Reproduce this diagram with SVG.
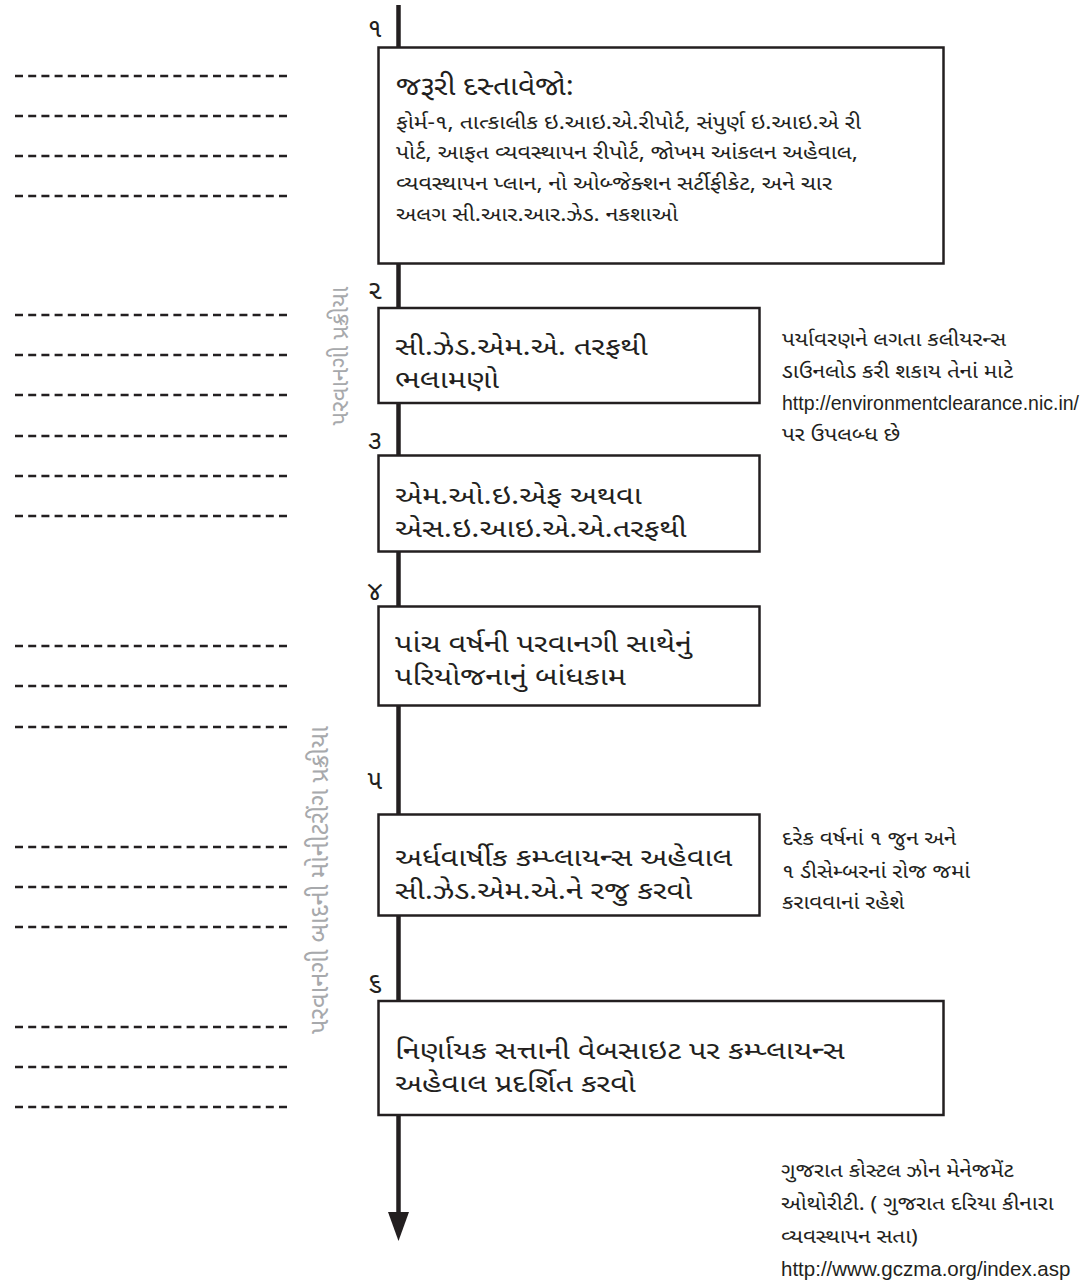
<svg xmlns="http://www.w3.org/2000/svg" width="1083" height="1282" viewBox="0 0 1083 1282">
<style>
text{font-family:"Noto Sans Gujarati","Lohit Gujarati","Shruti","Noto Sans","DejaVu Sans",sans-serif;fill:#231f20}
.box{fill:#fff;stroke:#231f20;stroke-width:2.5}
.dash{stroke:#231f20;stroke-width:2.5;stroke-dasharray:8 5.2;fill:none}
.t1{font-size:27px}
.t2{font-size:20px}
.big{font-size:25.5px}
.note{font-size:19.5px}
.url{font-family:"Liberation Sans Narrow","Liberation Sans",sans-serif;font-size:19.5px}
.num{font-size:27px;text-anchor:middle}
.side{font-size:24px;fill:#a7a9ac}
</style>
<g id="guides">
<line class="dash" x1="15" y1="76" x2="287" y2="76"/>
<line class="dash" x1="15" y1="116" x2="287" y2="116"/>
<line class="dash" x1="15" y1="156" x2="287" y2="156"/>
<line class="dash" x1="15" y1="196" x2="287" y2="196"/>
<line class="dash" x1="15" y1="315" x2="287" y2="315"/>
<line class="dash" x1="15" y1="355" x2="287" y2="355"/>
<line class="dash" x1="15" y1="395" x2="287" y2="395"/>
<line class="dash" x1="15" y1="436" x2="287" y2="436"/>
<line class="dash" x1="15" y1="476" x2="287" y2="476"/>
<line class="dash" x1="15" y1="516" x2="287" y2="516"/>
<line class="dash" x1="15" y1="646" x2="287" y2="646"/>
<line class="dash" x1="15" y1="686" x2="287" y2="686"/>
<line class="dash" x1="15" y1="727" x2="287" y2="727"/>
<line class="dash" x1="15" y1="847" x2="287" y2="847"/>
<line class="dash" x1="15" y1="887" x2="287" y2="887"/>
<line class="dash" x1="15" y1="927" x2="287" y2="927"/>
<line class="dash" x1="15" y1="1027" x2="287" y2="1027"/>
<line class="dash" x1="15" y1="1067" x2="287" y2="1067"/>
<line class="dash" x1="15" y1="1107" x2="287" y2="1107"/>
</g>
<g id="connectors">
<line x1="398.5" y1="5" x2="398.5" y2="1214" stroke="#231f20" stroke-width="4.5"/>
<polygon points="388,1212 409,1212 398.5,1241" fill="#231f20"/>
</g>
<g id="phase-labels">
<text class="side" transform="translate(348,356) rotate(-90)" text-anchor="middle">પરવાનગી પ્રક્રીયા</text>
<text class="side" transform="translate(328,880) rotate(-90)" text-anchor="middle" style="font-size:25.5px">પરવાનગી બાદની મોનીટરીંગ પ્રક્રીયા</text>
</g>
<g id="step-numbers">
<text class="num" x="375" y="37">૧</text>
<text class="num" x="375" y="299">૨</text>
<text class="num" x="375" y="449">૩</text>
<text class="num" x="375" y="600">૪</text>
<text class="num" x="375" y="789">૫</text>
<text class="num" x="375" y="991">૬</text>
</g>
<g id="node1">
<rect class="box" x="378.5" y="47.5" width="565" height="216"/>
<text class="t1" transform="translate(396,95) scale(1.11,1)">જરૂરી દસ્તાવેજો:</text>
<text class="t2" transform="translate(396,129) scale(1.15,1)">ફોર્મ-૧, તાત્કાલીક ઇ.આઇ.એ.રીપોર્ટ, સંપુર્ણ ઇ.આઇ.એ રી</text>
<text class="t2" transform="translate(396,159) scale(1.15,1)">પોર્ટ, આફત વ્યવસ્થાપન રીપોર્ટ, જોખમ આંકલન અહેવાલ,</text>
<text class="t2" transform="translate(396,190) scale(1.15,1)">વ્યવસ્થાપન પ્લાન, નો ઓબ્જેક્શન સર્ટીફીકેટ, અને ચાર</text>
<text class="t2" transform="translate(396,221) scale(1.15,1)">અલગ સી.આર.આર.ઝેડ. નકશાઓ</text>
</g>
<g id="node2">
<rect class="box" x="378.5" y="308" width="381" height="95"/>
<text class="big" transform="translate(395,355) scale(1.2,1)">સી.ઝેડ.એમ.એ. તરફથી</text>
<text class="big" transform="translate(395,388) scale(1.2,1)">ભલામણો</text>
</g>
<g id="node3">
<rect class="box" x="378.5" y="455.5" width="381" height="96"/>
<text class="big" transform="translate(395,504) scale(1.2,1)">એમ.ઓ.ઇ.એફ અથવા</text>
<text class="big" transform="translate(395,537) scale(1.2,1)">એસ.ઇ.આઇ.એ.એ.તરફથી</text>
</g>
<g id="node4">
<rect class="box" x="378.5" y="606.5" width="381" height="99"/>
<text class="big" transform="translate(395,652) scale(1.2,1)">પાંચ વર્ષની પરવાનગી સાથેનું</text>
<text class="big" transform="translate(395,685) scale(1.2,1)">પરિયોજનાનું બાંધકામ</text>
</g>
<g id="node5">
<rect class="box" x="378.5" y="814.5" width="381" height="101"/>
<text class="big" transform="translate(395,866) scale(1.2,1)">અર્ધવાર્ષીક કમ્પ્લાયન્સ અહેવાલ</text>
<text class="big" transform="translate(395,899) scale(1.2,1)">સી.ઝેડ.એમ.એ.ને રજુ કરવો</text>
</g>
<g id="node6">
<rect class="box" x="378.5" y="1001" width="565" height="114"/>
<text class="big" transform="translate(395,1059) scale(1.2,1)">નિર્ણાયક સત્તાની વેબસાઇટ પર કમ્પ્લાયન્સ</text>
<text class="big" transform="translate(395,1092) scale(1.2,1)">અહેવાલ પ્રદર્શિત કરવો</text>
</g>
<g id="note-clearance">
<text class="note" transform="translate(782,346) scale(1.15,1)">પર્યાવરણને લગતા કલીયરન્સ</text>
<text class="note" transform="translate(782,378) scale(1.15,1)">ડાઉનલોડ કરી શકાય તેનાં માટે</text>
<text class="url" x="782" y="410">http://environmentclearance.nic.in/</text>
<text class="note" transform="translate(782,441) scale(1.15,1)">પર ઉપલબ્ધ છે</text>
</g>
<g id="note-dates">
<text class="note" transform="translate(782,845) scale(1.15,1)">દરેક વર્ષનાં ૧ જુન અને</text>
<text class="note" transform="translate(782,878) scale(1.15,1)">૧ ડીસેમ્બરનાં રોજ જમાં</text>
<text class="note" transform="translate(782,909) scale(1.15,1)">કરાવવાનાં રહેશે</text>
</g>
<g id="note-gczma">
<text class="note" transform="translate(781,1177) scale(1.15,1)">ગુજરાત કોસ્ટલ ઝોન મેનેજમેંટ</text>
<text class="note" transform="translate(781,1210) scale(1.15,1)">ઓથોરીટી. ( ગુજરાત દરિયા કીનારા</text>
<text class="note" transform="translate(781,1243) scale(1.15,1)">વ્યવસ્થાપન સતા)</text>
<text class="url" x="781" y="1276" style="font-size:20.5px">http://www.gczma.org/index.asp</text>
</g>
</svg>
